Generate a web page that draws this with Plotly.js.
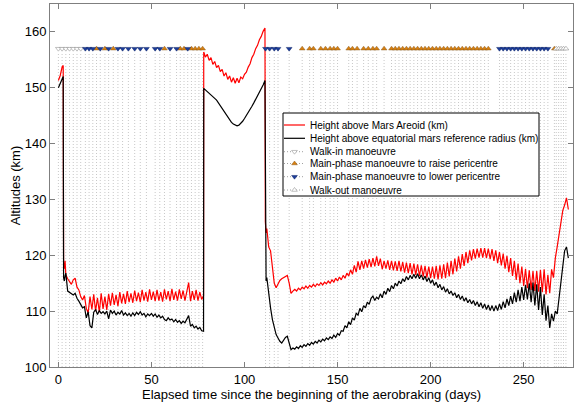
<!DOCTYPE html>
<html><head><meta charset="utf-8">
<script src="https://cdn.plot.ly/plotly-3.0.1.min.js"></script>
<style>html,body{margin:0;padding:0;background:#fff}#chart{width:574px;height:405px}</style>
</head><body><div id="chart"></div>
<script>
// Elapsed days
const days = [
0,1,2,2.6,2.8,3.2,3.6,4,
5,6,7,8,9,10,11,12,13,14,
15,16,17,18,19,20,21,22,23,24,
25,26,27,28,29,30,31,32,33,34,
35,36,37,38,39,40,41,42,43,44,
45,46,47,48,49,50,51,52,53,54,
55,56,57,58,59,60,61,62,63,64,
65,66,67,68,69,70,71,72,73,74,
75,76,77,78,
78.1,79,80,81,82,83,84,85,86,87,
88,89,90,91,92,93,94,95,96,97,
98,99,100,101,102,103,104,105,106,107,
108,109,110,111,
111.2,111.6,112,
113,114,115,116,117,118,119,120,121,122,
123,124,125,126,127,128,129,130,131,132,
133,134,135,136,137,138,139,140,141,142,
143,144,145,146,147,148,149,150,151,152,
153,154,155,156,157,158,159,160,161,162,
163,164,165,166,167,168,169,170,171,172,
173,174,175,176,177,178,179,180,181,182,
183,184,185,186,187,188,189,190,191,192,
193,194,195,196,197,198,199,200,201,202,
203,204,205,206,207,208,209,210,211,212,
213,214,215,216,217,218,219,220,221,222,
223,224,225,226,227,228,229,230,231,232,
233,234,235,236,237,238,239,240,241,242,
243,244,245,246,247,248,249,250,251,252,
253,254,255,256,257,258,259,260,261,262,
263,264,265,266,267,268,269,270,271,272,
273,274
];
// Height above Mars Areoid (km)
const areoid = [
151.3,152.2,153.7,154.0,118.5,117.6,119.0,116.5,
115.8,115.3,114.8,115.6,115.9,114.3,113.8,112.6,112.0,112.8,
110.5,109.7,112.6,110.3,113.0,110.0,112.4,109.8,113.2,110.4,
112.6,110.2,113.1,111.0,113.3,111.1,112.9,110.9,113.4,111.4,
113.1,111.3,113.6,111.6,113.2,111.5,113.7,111.8,113.3,111.6,
113.8,111.9,113.4,111.7,113.9,112.0,113.5,111.8,113.8,111.9,
113.4,111.7,113.9,112.1,113.6,111.8,114.0,112.0,113.5,111.9,
113.9,112.2,113.7,111.9,113.8,115.1,111.8,113.6,112.0,113.8,
111.9,113.4,112.1,112.8,
156.4,155.5,156.0,154.9,155.4,154.2,154.7,153.6,154.0,152.9,
153.3,152.1,152.7,151.5,152.1,151.0,151.8,150.8,151.7,150.9,
151.9,151.6,152.4,152.8,153.7,154.3,155.4,156.0,157.0,157.6,
158.6,159.2,160.1,160.7,
126.0,124.0,124.8,
121.5,120.8,118.0,115.0,114.2,114.8,115.5,115.8,116.0,116.2,
116.4,115.0,113.2,113.6,113.9,113.6,114.1,113.8,114.3,114.0,
114.5,114.1,114.6,114.3,114.8,114.4,114.9,114.6,115.1,114.7,
115.2,114.9,115.4,115.0,115.6,115.2,115.9,115.4,116.1,115.6,
116.4,115.9,116.8,116.3,117.4,116.6,118.2,117.0,118.9,117.4,
119.0,117.6,119.2,117.8,119.3,117.9,119.5,118.0,119.8,118.1,
119.4,117.5,119.0,117.6,119.1,117.4,119.0,117.3,118.9,117.2,
119.0,117.1,118.8,116.9,118.7,116.8,118.6,116.6,118.5,116.5,
118.4,116.3,118.2,116.2,118.1,116.0,118.0,115.9,118.0,115.8,
118.1,115.7,118.2,115.8,118.4,115.9,118.7,116.2,119.0,116.6,
119.4,117.1,119.8,117.6,120.2,118.1,120.6,118.6,120.9,119.1,
121.1,119.4,121.2,119.6,121.3,119.6,121.3,119.5,121.2,119.3,
121.1,119.0,120.9,118.6,120.6,118.2,120.3,117.6,119.9,117.0,
119.5,116.3,119.0,115.6,118.5,115.0,118.0,114.5,117.6,114.1,
117.3,113.8,117.2,113.6,117.2,113.5,117.4,113.4,117.5,113.0,
116.5,113.2,117.5,116.0,119.5,121.5,123.8,125.5,128.0,129.0,
130.3,128.2
];
// Height above equatorial mars reference radius (km)
const equatorial = [
150.0,150.8,151.8,152.0,116.0,115.4,116.3,116.8,
113.6,113.4,113.1,112.9,113.2,112.3,111.8,111.2,110.6,110.8,
108.8,109.9,107.4,107.0,109.8,110.3,109.4,110.1,109.6,109.9,
109.5,110.0,108.6,110.2,109.6,110.0,109.3,109.8,109.5,110.1,
109.3,109.7,109.2,109.6,109.1,109.7,109.2,109.8,109.4,109.9,
109.3,109.6,109.0,109.5,109.2,109.6,109.1,109.5,108.9,109.3,
108.8,109.1,108.5,108.3,108.8,108.4,108.6,108.1,108.5,108.0,
108.3,107.8,108.2,107.9,108.6,109.2,107.3,107.6,107.0,107.3,
106.8,107.1,106.5,106.4,
149.9,149.6,149.3,149.0,148.7,148.4,148.1,147.8,147.3,146.8,
146.3,145.8,145.2,144.7,144.2,143.8,143.5,143.3,143.2,143.3,
143.6,144.0,144.5,145.0,145.5,146.1,146.7,147.3,147.9,148.5,
149.1,149.8,150.5,151.3,
117.0,115.4,116.0,
112.8,110.6,108.5,107.0,105.8,105.2,104.6,104.3,104.8,105.3,
105.5,104.0,103.1,103.4,103.2,103.6,103.3,103.8,103.5,104.0,
103.7,104.2,103.9,104.4,104.1,104.6,104.3,104.8,104.5,105.0,
104.7,105.2,104.9,105.4,105.1,105.7,105.3,106.0,105.7,106.5,
106.4,107.4,107.0,108.1,107.6,108.8,108.4,109.6,109.3,110.5,
109.9,111.0,110.6,111.6,111.2,112.3,112.7,111.9,112.5,112.2,
113.1,112.4,113.6,113.0,114.1,113.5,114.6,114.0,115.0,114.5,
115.4,114.9,115.8,115.3,116.2,115.6,116.4,115.8,116.6,115.9,
116.7,115.8,116.5,115.6,116.3,115.3,116.0,115.0,115.6,114.6,
115.2,114.2,114.8,113.8,114.4,113.4,114.0,113.1,113.6,112.8,
113.3,112.4,113.0,112.1,112.7,111.8,112.4,111.5,112.1,111.3,
111.9,111.0,111.7,110.8,111.5,110.5,111.3,110.3,111.1,110.1,
111.0,110.0,111.0,110.1,111.3,110.3,111.7,110.6,112.2,111.0,
112.7,111.3,113.3,111.6,113.8,111.8,114.3,112.0,114.7,112.1,
115.0,111.6,115.1,111.0,114.8,110.2,114.3,109.3,113.0,108.3,
111.0,107.0,109.5,108.2,110.0,109.5,112.5,116.0,118.5,120.8,
121.5,119.5
];
// Manoeuvre days
const walkIn = [0, 2, 4, 6, 8, 10, 12];
const raisePeri = [20.5, 25, 29.5, 57, 65.5, 67.5, 71.5, 73.5, 75.5, 77.5,
  131, 135, 137, 141, 143.5, 146, 148, 150, 156, 158, 160.5, 164, 166.5, 169, 171, 175,
  179, 181, 183, 185, 187, 189, 191, 193, 195, 197, 199, 201, 203, 205, 207, 209,
  211, 213, 215, 217, 219, 221, 223, 225, 227, 229, 231, 266.5];
const lowerPeri = [14.5, 16.5, 18.5, 22.5, 27, 32, 34.5, 37.6, 41, 44, 47.3, 52, 54.5, 60,
  63.5, 69.5, 111.3, 113.5, 116, 118, 124,
  237, 239, 241, 243, 245, 247, 249, 251, 253, 255, 257, 259, 261, 263];
const walkOut = [267.5, 268.8, 270.1, 271.4, 272.7];
const markerLevel = 157;

const xTicks = [0, 50, 100, 150, 200, 250];
const yTicks = [100, 110, 120, 130, 140, 150, 160];
const legendLabels = [
  'Height above Mars Areoid (km)',
  'Height above equatorial mars reference radius (km)',
  'Walk-in manoeuvre',
  'Main-phase manoeuvre to raise pericentre',
  'Main-phase manoeuvre to lower pericentre',
  'Walk-out manoeuvre'
];

const FONT = 'Liberation Sans, Arial, sans-serif';
const cRed = '#ff0000', cBlack = '#000000', cRaise = '#d8800f', cLower = '#1b3c9a', cOpen = '#ffffff', cEdge = '#808080';

const groups = [
  {t: walkIn, sym: 'triangle-down', fill: cOpen, edge: cEdge},
  {t: raisePeri, sym: 'triangle-up', fill: cRaise, edge: '#8a5a20'},
  {t: lowerPeri, sym: 'triangle-down', fill: cLower, edge: '#0f2466'},
  {t: walkOut, sym: 'triangle-up', fill: cOpen, edge: cEdge}
];

const traces = [
  {x: days, y: areoid, mode: 'lines', line: {color: cRed, width: 1.2}, showlegend: false, hoverinfo: 'skip'},
  {x: days, y: equatorial, mode: 'lines', line: {color: cBlack, width: 1.2}, showlegend: false, hoverinfo: 'skip'}
];
groups.forEach(g => {
  traces.push({x: g.t, y: g.t.map(() => markerLevel), mode: 'markers', showlegend: false, hoverinfo: 'skip',
    marker: {symbol: g.sym, size: 5, color: g.fill, line: {color: g.edge, width: 0.5}}});
});

// legend (in plot-pixel overlay axes)
const rowY = [121, 134.3, 147.7, 159.5, 172.7, 186];
const sx0 = 234, sx1 = 255, smid = 244.5, tx = 258;
traces.push({x: [sx0, sx1], y: [rowY[0], rowY[0]], xaxis: 'x2', yaxis: 'y2', mode: 'lines', line: {color: cRed, width: 1.2}, showlegend: false, hoverinfo: 'skip'});
traces.push({x: [sx0, sx1], y: [rowY[1], rowY[1]], xaxis: 'x2', yaxis: 'y2', mode: 'lines', line: {color: cBlack, width: 1.2}, showlegend: false, hoverinfo: 'skip'});
groups.forEach((g, i) => {
  const yy = rowY[i + 2];
  traces.push({x: [sx0, sx1], y: [yy, yy], xaxis: 'x2', yaxis: 'y2', mode: 'lines', line: {color: '#a0a0a0', width: 1, dash: '1px,2px'}, showlegend: false, hoverinfo: 'skip'});
  traces.push({x: [smid], y: [yy], xaxis: 'x2', yaxis: 'y2', mode: 'markers', showlegend: false, hoverinfo: 'skip',
    marker: {symbol: g.sym, size: 5, color: g.fill, line: {color: g.edge, width: 0.5}}});
});

const shapes = [];
[walkIn, raisePeri, lowerPeri, walkOut].forEach(arr => arr.forEach(t => {
  shapes.push({type: 'line', xref: 'x', yref: 'y', x0: t, x1: t, y0: 100, y1: markerLevel - 0.8,
    line: {color: '#c8c8c8', width: 1, dash: '1px,2px'}, layer: 'below'});
}));
shapes.push({type: 'rect', xref: 'x2', yref: 'y2', x0: 233, x1: 489, y0: 109, y1: 192,
  line: {color: '#000', width: 1}, fillcolor: '#fff', layer: 'below'});

const annotations = legendLabels.map((s, i) => ({
  text: s, xref: 'x2', yref: 'y2', x: tx, y: rowY[i], xanchor: 'left', yanchor: 'middle',
  showarrow: false, font: {family: FONT, size: 10, color: '#000'}
}));

const axisCommon = {
  showline: true, mirror: 'ticks', linecolor: '#7f7f7f', linewidth: 1,
  ticks: 'inside', ticklen: 5, tickcolor: '#7f7f7f', tickwidth: 1,
  showgrid: false, zeroline: false, tickfont: {family: FONT, size: 13, color: '#000'}
};

const layout = {
  width: 574, height: 405,
  margin: {l: 50, r: 1, t: 4, b: 38, pad: 0},
  paper_bgcolor: '#fff', plot_bgcolor: '#fff',
  font: {family: FONT, size: 13, color: '#000'},
  showlegend: false,
  xaxis: Object.assign({}, axisCommon, {range: [-4.5, 276.5], tickvals: xTicks,
    title: {text: 'Elapsed time since the beginning of the aerobraking (days)', font: {family: FONT, size: 13, color: '#000'}, standoff: 0}}),
  yaxis: Object.assign({}, axisCommon, {range: [100, 165], tickvals: yTicks,
    title: {text: 'Altitudes (km)', font: {family: FONT, size: 13, color: '#000'}, standoff: 1}}),
  xaxis2: {overlaying: 'x', range: [0, 523], visible: false, fixedrange: true},
  yaxis2: {overlaying: 'y', range: [363, 0], visible: false, fixedrange: true},
  shapes: shapes,
  annotations: annotations
};

Plotly.newPlot('chart', traces, layout, {staticPlot: true, displayModeBar: false});
</script></body></html>
